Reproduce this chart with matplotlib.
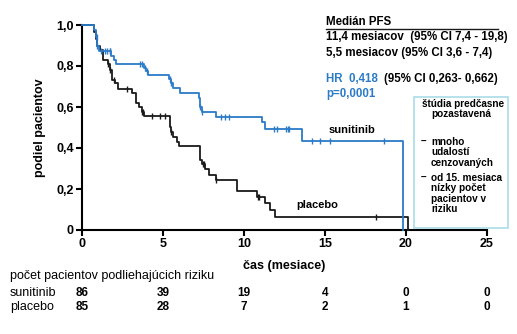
import matplotlib
matplotlib.use("Agg")
import matplotlib.pyplot as plt
from matplotlib.patches import Rectangle
from matplotlib.transforms import blended_transform_factory

plt.rcParams['font.family'] = ['Liberation Sans', 'DejaVu Sans']

blue = '#2b7bc8' ; black = '#1a1a1a'

# Kaplan-Meier steps (time in months, proportion after the step)
sun_t = [0, 0.72, 0.85, 0.93, 1.05, 1.8, 1.95, 2.1, 3.85, 3.95, 4.1, 5.4, 5.5, 5.6, 6.05,
         7.2, 7.3, 7.4, 8.3, 11.1, 11.3, 13.6, 19.8]
sun_s = [1.0, 0.977, 0.94, 0.90, 0.875, 0.85, 0.83, 0.81, 0.79, 0.775, 0.755, 0.735, 0.715, 0.695, 0.67,
         0.645, 0.60, 0.577, 0.553, 0.527, 0.492, 0.435, 0.0]
sun_cens = [0.9, 0.95, 1.2, 1.4, 1.55, 1.7, 1.75, 3.55, 3.7, 3.9, 4.0, 5.45, 5.5, 7.3, 7.4,
            8.55, 8.85, 9.1, 11.85, 12.05, 12.6, 12.7, 12.8, 14.2, 14.7, 15.3, 18.65]

pla_t = [0, 0.76, 0.85, 0.95, 1.1, 1.3, 1.6, 1.73, 1.83, 2.04, 2.24, 3.06, 3.33, 3.54, 3.68, 3.83,
         5.43, 5.5, 5.64, 5.84, 6.0, 7.3, 7.4, 7.6, 7.86, 8.3, 9.59, 10.78, 11.3, 11.6, 11.9, 20.15]
pla_s = [1.0, 0.965, 0.93, 0.90, 0.878, 0.83, 0.81, 0.78, 0.73, 0.716, 0.688, 0.667, 0.618, 0.60, 0.577, 0.558,
         0.504, 0.48, 0.455, 0.43, 0.41, 0.34, 0.32, 0.30, 0.27, 0.245, 0.192, 0.162, 0.13, 0.098, 0.065, 0.0]
pla_cens = [1.6, 1.75, 2.0, 2.75, 3.7, 3.75, 4.3, 4.8, 5.1, 5.5, 7.45, 7.5, 8.3, 10.85, 10.95, 18.15]

# risk table
risk_times = [0, 5, 10, 15, 20, 25]
risk_sun = [86, 39, 19, 4, 0, 0]
risk_pla = [85, 28, 7, 2, 1, 0]



def surv_at(ts, ss, t):
    val = ss[0]
    for ti, si in zip(ts, ss):
        if ti <= t: val = si
    return val



def km_plot(ax, ts, ss, cens, color):
    ax.step(ts, ss, where='post', color=color, lw=1.3, clip_on=False, zorder=3)
    ys = [surv_at(ts, ss, c) for c in cens]
    ax.plot(cens, ys, linestyle='none', marker='|', markersize=5, mew=1.0, color=color, clip_on=False, zorder=3)



fig = plt.figure(figsize=(5.17, 3.34), dpi=100)
ax = fig.add_axes([82/517, 1-230/334, 405/517, 205/334])

km_plot(ax, pla_t, pla_s, pla_cens, black)
km_plot(ax, sun_t, sun_s, sun_cens, blue)

ax.set_xlim(0, 25) ; ax.set_ylim(0, 1.0)
ax.set_xticks(risk_times)
ax.set_yticks([0, 0.2, 0.4, 0.6, 0.8, 1.0])
ax.set_yticklabels(['0', '0,2', '0,4', '0,6', '0,8', '1,0'])
ax.spines['top'].set_visible(False) ; ax.spines['right'].set_visible(False)
for s in ['left', 'bottom']: ax.spines[s].set_linewidth(1.5)
ax.tick_params(direction='out', length=4, width=1.5, labelsize=9, pad=2)
for lab in ax.get_xticklabels() + ax.get_yticklabels(): lab.set_fontweight('bold')
ax.set_ylabel('podiel pacientov', fontsize=9, fontweight='bold', labelpad=7)
ax.set_xlabel('čas (mesiace)', fontsize=9, fontweight='bold', labelpad=7)

ax.text(15.2, 0.49, 'sunitinib', fontsize=8, fontweight='bold', va='center')
ax.text(13.2, 0.12, 'placebo', fontsize=8, fontweight='bold', va='center')

# Median PFS block
def fy(py): return 1 - py/334
def fx(px): return px/517
fig.text(fx(326), fy(22), 'Medián PFS', fontsize=8.3, fontweight='bold', va='center')
fig.add_artist(plt.Line2D([fx(326), fx(498)], [fy(29), fy(29)], color=black, lw=1))
fig.text(fx(326), fy(37), '11,4 mesiacov  (95% CI 7,4 - 19,8)', fontsize=8.3, fontweight='bold', va='center')
fig.text(fx(326), fy(53), '5,5 mesiacov (95% CI 3,6 - 7,4)', fontsize=8.3, fontweight='bold', va='center')
fig.text(fx(326), fy(79), 'HR  0,418', fontsize=8.3, fontweight='bold', va='center', color=blue)
fig.text(fx(384), fy(79), '(95% CI 0,263- 0,662)', fontsize=8.3, fontweight='bold', va='center')
fig.text(fx(326), fy(94), 'p=0,0001', fontsize=8.3, fontweight='bold', va='center', color=blue)

# note box
fig.add_artist(Rectangle((fx(414), fy(228)), 94/517, 131/334, transform=fig.transFigure,
                         fill=False, edgecolor='#a9dde9', lw=1.2))
box_lines = [(422, 104, 'štúdia predčasne'), (431, 114, 'pozastavená'),
             (421, 142, '–'), (431, 142, 'mnoho'), (431, 152, 'udalostí'), (431, 163, 'cenzovaných'),
             (421, 178, '–'), (431, 178, 'od 15. mesiaca'), (431, 188, 'nízky počet'),
             (431, 199, 'pacientov v'), (431, 209, 'riziku')]
for px, py, txt in box_lines:
    fig.text(fx(px), fy(py), txt, fontsize=7.2, fontweight='bold', va='center')

# risk table
fig.text(fx(10), fy(276), 'počet pacientov podliehajúcich riziku', fontsize=9, va='center')
fig.text(fx(10), fy(293), 'sunitinib', fontsize=9, va='center')
fig.text(fx(10), fy(307), 'placebo', fontsize=9, va='center')
trans = blended_transform_factory(ax.transData, fig.transFigure)
for t, a, b in zip(risk_times, risk_sun, risk_pla):
    ax.text(t, fy(293), str(a), transform=trans, fontsize=8.5, fontweight='bold', va='center', ha='center', clip_on=False)
    ax.text(t, fy(307), str(b), transform=trans, fontsize=8.5, fontweight='bold', va='center', ha='center', clip_on=False)

plt.savefig('out.png', dpi=100)
plt.close()
